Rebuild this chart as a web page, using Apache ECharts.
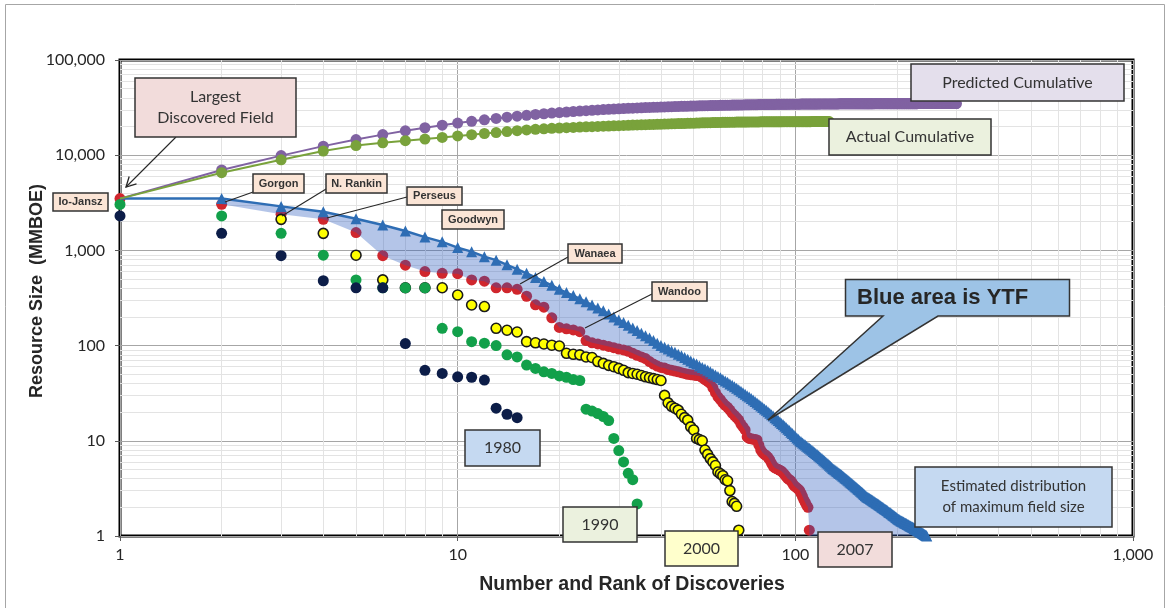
<!DOCTYPE html>
<html>
<head>
<meta charset="utf-8">
<script src="https://cdn.jsdelivr.net/npm/echarts@6/dist/echarts.min.js"></script>
<style>
  html, body { margin: 0; padding: 0; background: #ffffff; }
  #chart { width: 1171px; height: 608px; }
</style>
</head>
<body>
<div id="chart"></div>
<script>
// ---- Axis ticks -------------------------------------------------------
const xTicks = [1, 10, 100, 1000];
const xTickLabels = ['1', '10', '100', '1,000'];
const yTicks = [1, 10, 100, 1000, 10000, 100000];
const yTickLabels = ['1', '10', '100', '1,000', '10,000', '100,000'];

// ---- Ranked field sizes (MMBOE), rank = position + 1 -------------------
const sizes1980 = [2300, 1510, 880, 480, 405, 405, 105, 55, 51, 47, 46.5, 43.5, 22, 19, 17.5];

const sizes1990 = [3040, 2300, 1510, 890, 490, 405, 405, 405, 152, 140,
  110, 106, 100, 80, 76, 62.5, 57.6, 53, 51, 48,
  46.5, 44, 43, 21.5, 20.5, 19.3, 18, 16.3, 10.6, 7.9,
  6.0, 4.55, 3.9, 2.17];

// ranks 1-2 sit under the 2007 markers
const sizes2000 = [null, null, 2120, 1510, 890, 490, 405, 405, 405, 340,
  267, 257, 152, 145, 139, 110, 107, 104, 101, 99,
  83, 81, 80, 76, 75, 68, 65, 62, 60, 57.6,
  55, 52, 51, 50, 48.5, 47, 46, 45, 44, 43,
  30, 25, 23, 22, 21, 19, 17.5, 16.5, 14, 13,
  10.6, 10.3, 10, 8, 7.2, 6.5, 6, 5.5, 4.7, 4.5,
  4.3, 3.9, 3.8, 3.0, 2.3, 2.2, 2.05, 1.15];

const sizes2007 = [3500, 3050, 2400, 2120, 1540, 880, 700, 600, 575, 570,
  490, 475, 405, 405, 390, 330, 268, 253, 196, 155,
  150, 146, 140, 113, 107, 104, 101, 98, 95, 92,
  90, 87, 83, 79, 76, 73, 68, 64, 61, 59,
  58, 56, 55, 54, 53, 52, 51, 50, 49.5, 49,
  48.5, 48, 46, 44, 42, 40, 36, 32, 29, 27,
  25, 23.5, 22.5, 21, 19.5, 18.5, 17.5, 16.5, 15, 14,
  13, 11, 10.6, 10.5, 10.4, 10.3, 10.2, 9, 8, 7.5,
  7.2, 7, 6.7, 6.3, 5.8, 5.4, 5.2, 5.1, 5, 4.9,
  4.8, 4.6, 4.4, 4.2, 4.0, 3.9, 3.8, 3.6, 3.4, 3.3,
  3.2, 3.1, 3.0, 2.8, 2.6, 2.4, 2.25, 2.1, 2.0, 1.15];

// Estimated distribution of maximum field size
const estimatedMax = [3500, 3500, 2900, 2550, 2150, 1850, 1600, 1380, 1230, 1070,
  970, 860, 790, 705, 635, 575, 520, 470, 430, 390,
  361, 335, 310, 288, 267, 249, 232, 215, 200, 186,
  175, 164, 153, 144, 135, 127, 120, 113, 106, 100,
  96, 92, 88, 85, 81, 78, 75, 72, 69, 66,
  64, 61, 59, 57, 55, 53, 51, 49, 47.4, 46,
  44.1, 42.6, 41.1, 39.6, 38.3, 36.9, 35.6, 34.4, 33.2, 32,
  30.9, 29.8, 28.8, 27.8, 26.8, 25.9, 24.9, 24.1, 23.2, 22.4,
  21.6, 20.9, 20.2, 19.5, 18.8, 18.2, 17.5, 16.9, 16.3, 15.8,
  15.2, 14.7, 14.2, 13.7, 13.2, 12.8, 12.3, 11.9, 11.5, 11.1,
  10.7, 10.4, 10, 9.75, 9.5, 9.27, 9.02, 8.79, 8.57, 8.36,
  8.15, 7.94, 7.74, 7.54, 7.35, 7.16, 6.98, 6.81, 6.64, 6.46,
  6.3, 6.14, 5.98, 5.83, 5.69, 5.54, 5.4, 5.26, 5.13, 5.02,
  4.92, 4.83, 4.73, 4.63, 4.54, 4.45, 4.36, 4.27, 4.19, 4.1,
  4.02, 3.94, 3.85, 3.78, 3.7, 3.63, 3.55, 3.48, 3.41, 3.34,
  3.27, 3.21, 3.14, 3.08, 3.02, 2.96, 2.9, 2.84, 2.78, 2.73,
  2.67, 2.62, 2.57, 2.54, 2.5, 2.47, 2.43, 2.4, 2.37, 2.33,
  2.3, 2.27, 2.24, 2.21, 2.18, 2.15, 2.12, 2.09, 2.06, 2.03,
  2.0, 1.98, 1.95, 1.92, 1.9, 1.87, 1.85, 1.82, 1.79, 1.77,
  1.75, 1.72, 1.7, 1.67, 1.65, 1.63, 1.61, 1.58, 1.56, 1.54,
  1.52, 1.5, 1.48, 1.47, 1.45, 1.44, 1.43, 1.41, 1.4, 1.38,
  1.37, 1.36, 1.35, 1.33, 1.32, 1.31, 1.3, 1.28, 1.27, 1.26,
  1.25, 1.24, 1.23, 1.22, 1.2, 1.19, 1.18, 1.17, 1.16, 1.15,
  1.14, 1.13, 1.12, 1.11, 1.1, 1.09, 1.08, 1.07, 1.06, 1.05,
  1.04, 1.03, 1.02, 1.01, 1.0];

// Predicted cumulative resource (MMBOE)
const predictedCumulative = [3500, 7000, 9900, 12450, 14600, 16450, 18050, 19430, 20660, 21730,
  22700, 23560, 24350, 25055, 25690, 26265, 26785, 27255, 27685, 28075,
  28436, 28771, 29081, 29369, 29636, 29885, 30117, 30332, 30532, 30718,
  30893, 31057, 31210, 31354, 31489, 31616, 31736, 31849, 31955, 32055,
  32151, 32243, 32331, 32416, 32497, 32575, 32650, 32722, 32791, 32857,
  32921, 32982, 33041, 33098, 33153, 33206, 33257, 33306, 33353, 33399,
  33443, 33486, 33527, 33567, 33605, 33642, 33678, 33712, 33745, 33777,
  33808, 33838, 33867, 33895, 33922, 33948, 33973, 33997, 34020, 34042,
  34064, 34085, 34105, 34124, 34143, 34161, 34179, 34196, 34212, 34228,
  34243, 34258, 34272, 34286, 34299, 34312, 34324, 34336, 34348, 34359,
  34370, 34380, 34390, 34400, 34409, 34418, 34427, 34436, 34445, 34453,
  34461, 34469, 34477, 34485, 34492, 34499, 34506, 34513, 34520, 34526,
  34532, 34538, 34544, 34550, 34556, 34561, 34567, 34572, 34577, 34582,
  34587, 34592, 34597, 34601, 34606, 34610, 34615, 34619, 34623, 34627,
  34631, 34635, 34639, 34643, 34647, 34650, 34654, 34657, 34661, 34664,
  34667, 34670, 34674, 34677, 34680, 34683, 34686, 34688, 34691, 34694,
  34697, 34699, 34702, 34704, 34707, 34709, 34712, 34714, 34716, 34719,
  34721, 34723, 34725, 34728, 34730, 34732, 34734, 34736, 34738, 34740,
  34742, 34744, 34746, 34748, 34750, 34752, 34754, 34755, 34757, 34759,
  34761, 34762, 34764, 34766, 34767, 34769, 34770, 34772, 34774, 34775,
  34777, 34778, 34780, 34781, 34782, 34784, 34785, 34787, 34788, 34789,
  34791, 34792, 34793, 34795, 34796, 34797, 34799, 34800, 34801, 34802,
  34804, 34805, 34806, 34807, 34808, 34810, 34811, 34812, 34813, 34814,
  34815, 34816, 34818, 34819, 34820, 34821, 34822, 34823, 34824, 34825,
  34826, 34827, 34828, 34829, 34830, 34831, 34832, 34833, 34834, 34834,
  34835, 34836, 34837, 34838, 34839, 34839, 34840, 34841, 34842, 34843,
  34843, 34844, 34845, 34846, 34846, 34847, 34848, 34848, 34849, 34850,
  34850, 34851, 34852, 34852, 34853, 34854, 34854, 34855, 34855, 34856,
  34857, 34857, 34858, 34858, 34859, 34859, 34860, 34860, 34861, 34861,
  34862, 34862, 34863, 34863, 34864, 34864, 34865, 34865, 34866, 34866];

// Actual cumulative discovered resource (MMBOE)
const actualCumulative = [3500, 6550, 8950, 11070, 12610, 13490, 14190, 14790, 15365, 15935,
  16425, 16900, 17305, 17710, 18100, 18430, 18698, 18951, 19147, 19302,
  19452, 19598, 19738, 19851, 19958, 20062, 20163, 20261, 20356, 20448,
  20538, 20625, 20708, 20787, 20863, 20936, 21004, 21068, 21129, 21188,
  21246, 21302, 21357, 21411, 21464, 21516, 21567, 21617, 21667, 21716,
  21764, 21812, 21858, 21902, 21944, 21984, 22020, 22052, 22081, 22108,
  22133, 22157, 22179, 22200, 22220, 22238, 22256, 22272, 22287, 22301,
  22314, 22325, 22336, 22346, 22357, 22367, 22377, 22386, 22394, 22402,
  22409, 22416, 22423, 22429, 22435, 22440, 22445, 22450, 22455, 22460,
  22465, 22469, 22474, 22478, 22482, 22486, 22490, 22493, 22497, 22500,
  22503, 22506, 22509, 22512, 22515, 22517, 22519, 22521, 22523, 22524,
  22525, 22526, 22527, 22528, 22529, 22530, 22530, 22531, 22532, 22533,
  22533, 22534, 22535, 22535, 22536, 22537];

// ---- Helpers -----------------------------------------------------------
const ranked = arr => arr.map((v, i) => [i + 1, v == null ? '-' : v]);
// first point of a curve drawn without a marker (the Io-Jansz marker sits there)
const rankedNoFirstMarker = arr => arr.map((v, i) =>
  i === 0 ? { value: [1, v], symbol: 'none' } : [i + 1, v]);
const tickLabel = (ticks, labels) => v => {
  const k = ticks.indexOf(Math.round(v));
  return k >= 0 ? labels[k] : '';
};

// minor grid positions (2..9 within each decade)
const minorX = [], minorY = [];
for (let d = 1; d < 1000; d *= 10) for (let k = 2; k <= 9; k++) minorX.push(k * d);
for (let d = 1; d < 100000; d *= 10) for (let k = 2; k <= 9; k++) minorY.push(k * d);

const BOX_FONT = 'Lato, "Noto Sans", sans-serif';
const BOLD_FONT = '"Liberation Sans", Arial, sans-serif';
const EDGE = '#333333';

function box(x, y, w, h, fill, lines, font, lineGap) {
  const els = [{
    type: 'rect', z: 50,
    shape: { x: x, y: y, width: w, height: h },
    style: { fill: fill, stroke: EDGE, lineWidth: 1.5 }
  }];
  const n = lines.length;
  lines.forEach((t, i) => {
    els.push({
      type: 'text', z: 51,
      x: x + w / 2, y: y + h / 2 + (i - (n - 1) / 2) * (lineGap || 0),
      style: { text: t, font: font, fill: '#333333', align: 'center', verticalAlign: 'middle' }
    });
  });
  return els;
}
function leader(x1, y1, x2, y2) {
  return { type: 'line', z: 49, shape: { x1: x1, y1: y1, x2: x2, y2: y2 },
    style: { stroke: '#262626', lineWidth: 1.1 } };
}

const fieldFont = 'bold 11px ' + BOLD_FONT;
const peach = '#fbe5d6';

const graphics = [].concat(
  [{ type: 'rect', z: 0, shape: { x: 5.5, y: 4.5, width: 1159, height: 640 },
     style: { fill: 'none', stroke: '#a6a6a6', lineWidth: 1 } }],
  // axis titles
  [{ type: 'text', z: 51, x: 632, y: 585,
     style: { text: 'Number and Rank of Discoveries', font: 'bold 19.5px ' + BOLD_FONT,
              fill: '#262626', align: 'center', verticalAlign: 'middle' } },
   { type: 'text', z: 51, x: 37, y: 291, rotation: Math.PI / 2,
     style: { text: 'Resource Size  (MMBOE)', font: 'bold 18px ' + BOLD_FONT,
              fill: '#262626', align: 'center', verticalAlign: 'middle' } }],
  // largest discovered field callout with arrow
  box(135, 78, 161, 59, '#f2dcdb', ['Largest', 'Discovered Field'], '16px ' + BOX_FONT, 20.5),
  [leader(176, 137, 126, 187),
   { type: 'polyline', z: 49, shape: { points: [[136.5, 183.8], [126, 187], [129.2, 176.5]] },
     style: { stroke: '#262626', lineWidth: 1.3, fill: null } }],
  // field name labels
  box(53, 193, 55, 18, peach, ['Io-Jansz'], fieldFont),
  box(253, 174, 51, 19, peach, ['Gorgon'], fieldFont), [leader(256, 191, 225, 202)],
  box(326, 174, 61, 19, peach, ['N. Rankin'], fieldFont), [leader(331, 186, 282, 216)],
  box(407, 187, 55, 18, peach, ['Perseus'], fieldFont), [leader(407, 197, 327, 218)],
  box(442, 210, 62, 19, peach, ['Goodwyn'], fieldFont),
  box(568, 244, 54, 19, peach, ['Wanaea'], fieldFont), [leader(568, 257, 520, 284)],
  box(652, 282, 55, 19, peach, ['Wandoo'], fieldFont), [leader(652, 294, 585, 328)],
  // YTF callout
  [{ type: 'polygon', z: 50,
     shape: { points: [[845.5, 279.5], [1069.5, 279.5], [1069.5, 316], [938, 316],
                       [768, 420], [883, 316], [845.5, 316]] },
     style: { fill: '#9dc3e6', stroke: EDGE, lineWidth: 1.5 } },
   { type: 'text', z: 51, x: 857, y: 298,
     style: { text: 'Blue area is YTF', font: 'bold 22px ' + BOLD_FONT, fill: '#262626',
              align: 'left', verticalAlign: 'middle' } }],
  box(915, 467, 197, 60, '#c5d9f1', ['Estimated distribution', 'of maximum field size'], '15px ' + BOX_FONT, 21),
  box(911, 64, 213, 37, '#e4dfec', ['Predicted Cumulative'], '16px ' + BOX_FONT),
  box(829, 119, 162, 36, '#ebf1de', ['Actual Cumulative'], '16px ' + BOX_FONT),
  // vintage labels
  box(465, 430, 75, 36, '#c5d9f1', ['1980'], '16px ' + BOX_FONT),
  box(563, 507, 74, 35, '#ebf1de', ['1990'], '16px ' + BOX_FONT),
  box(665, 531, 73, 35, '#ffffcc', ['2000'], '16px ' + BOX_FONT),
  box(818, 532, 74, 35, '#f2dcdb', ['2007'], '16px ' + BOX_FONT)
);

const chart = echarts.init(document.getElementById('chart'), null, { renderer: 'canvas' });

chart.setOption({
  animation: false,
  backgroundColor: '#ffffff',
  grid: {
    left: 120, right: 38, top: 60, bottom: 72,
    show: true, borderColor: '#000000', borderWidth: 3, backgroundColor: 'transparent',
    containLabel: false, outerBoundsMode: 'none'
  },
  xAxis: {
    type: 'log', logBase: 10, min: 1, max: 1000, splitNumber: 3,
    axisLine: { show: false },
    axisTick: { show: true, length: 5, lineStyle: { color: '#595959' } },
    axisLabel: { margin: 11, fontSize: 16, fontFamily: 'Lato', color: '#262626',
                 formatter: tickLabel(xTicks, xTickLabels) },
    splitLine: { show: true, lineStyle: { color: '#a6a6a6', width: 1 } }
  },
  yAxis: {
    type: 'log', logBase: 10, min: 1, max: 100000, splitNumber: 5,
    axisLine: { show: false },
    axisTick: { show: true, length: 5, lineStyle: { color: '#595959' } },
    axisLabel: { margin: 15, fontSize: 16, fontFamily: 'Lato', color: '#262626',
                 formatter: tickLabel(yTicks, yTickLabels) },
    splitLine: { show: true, lineStyle: { color: '#a6a6a6', width: 1 } }
  },
  graphic: { elements: graphics },
  series: [
    { // minor grid
      type: 'line', data: [], z: 1, silent: true,
      markLine: {
        z: 1, silent: true, animation: false, symbol: ['none', 'none'],
        label: { show: false },
        lineStyle: { color: '#e3e3e3', width: 1, type: 'solid' },
        emphasis: { disabled: true },
        data: minorX.map(v => ({ xAxis: v })).concat(minorY.map(v => ({ yAxis: v })))
      }
    },
    {
      name: '2007', type: 'scatter', z: 2, silent: true, clip: false,
      data: ranked(sizes2007), symbol: 'circle', symbolSize: 11,
      itemStyle: { color: '#d0262d', opacity: 1 }
    },
    { // yet-to-find area between the estimated maximum and the 2007 ranking
      type: 'custom', z: 3, silent: true, clip: true,
      data: [[1, 1]], encode: { x: 0, y: 1 },
      renderItem: function (params, api) {
        const pts = [];
        for (let i = 1; i < estimatedMax.length; i++) pts.push(api.coord([i + 1, estimatedMax[i]]));
        pts.push(api.coord([sizes2007.length, 1]));
        for (let i = sizes2007.length - 1; i >= 1; i--) pts.push(api.coord([i + 1, sizes2007[i]]));
        return { type: 'polygon', shape: { points: pts },
                 style: { fill: 'rgba(40,90,190,0.35)' } };
      }
    },
    {
      name: '2000', type: 'scatter', z: 4, silent: true, clip: false,
      data: ranked(sizes2000), symbol: 'circle', symbolSize: 10,
      itemStyle: { color: '#ffff00', borderColor: '#1a1a1a', borderWidth: 1.6, opacity: 1 }
    },
    {
      name: '1990', type: 'scatter', z: 5, silent: true, clip: false,
      data: ranked(sizes1990), symbol: 'circle', symbolSize: 11,
      itemStyle: { color: '#12a04a', opacity: 1 }
    },
    {
      name: '1980', type: 'scatter', z: 6, silent: true, clip: false,
      data: ranked(sizes1980), symbol: 'circle', symbolSize: 11,
      itemStyle: { color: '#0c1d48', opacity: 1 }
    },
    {
      name: 'Estimated maximum', type: 'line', z: 7, silent: true, clip: false,
      data: rankedNoFirstMarker(estimatedMax),
      symbol: 'triangle', symbolSize: 11, showSymbol: true, showAllSymbol: true,
      lineStyle: { color: '#2e6db4', width: 2.5 }, itemStyle: { color: '#2e6db4', opacity: 1 }
    },
    {
      name: 'Predicted Cumulative', type: 'line', z: 8, silent: true, clip: false,
      data: rankedNoFirstMarker(predictedCumulative),
      symbol: 'circle', symbolSize: 11, showSymbol: true, showAllSymbol: true,
      lineStyle: { color: '#8062a2', width: 2 }, itemStyle: { color: '#8062a2', opacity: 1 }
    },
    {
      name: 'Actual Cumulative', type: 'line', z: 8, silent: true, clip: false,
      data: rankedNoFirstMarker(actualCumulative),
      symbol: 'circle', symbolSize: 11, showSymbol: true, showAllSymbol: true,
      lineStyle: { color: '#79a23b', width: 2 }, itemStyle: { color: '#79a23b', opacity: 1 }
    }
  ]
});
</script>
</body>
</html>
